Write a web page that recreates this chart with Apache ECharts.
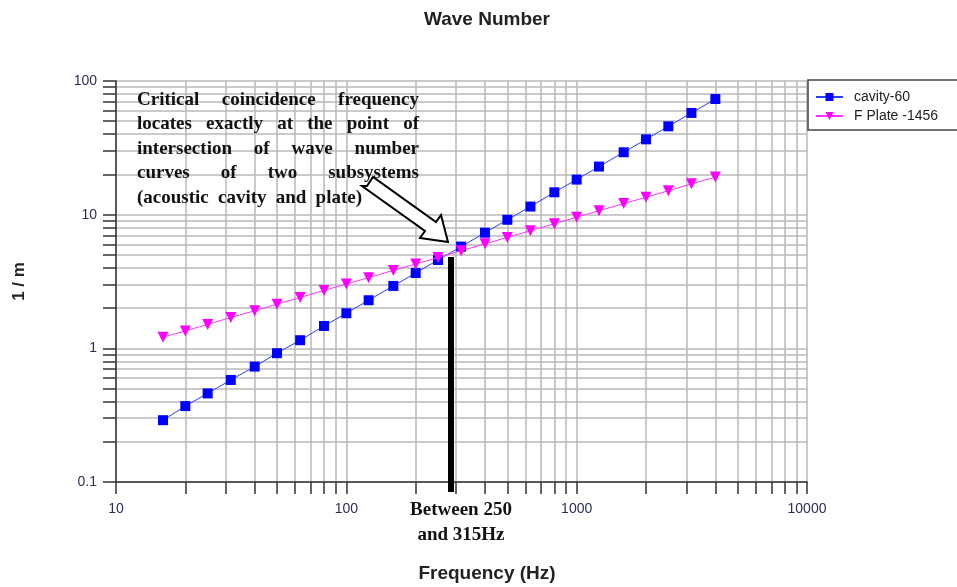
<!DOCTYPE html>
<html>
<head>
<meta charset="utf-8">
<script src="https://cdn.jsdelivr.net/npm/echarts@6/dist/echarts.min.js"></script>
<style>
  html, body { margin: 0; padding: 0; background: #fff; }
  #main { width: 957px; height: 587px; }
</style>
</head>
<body>
<div id="main"></div>
<script>
// third-octave frequencies (Hz)
var freqs = [16, 20, 25, 31.5, 40, 50, 63, 80, 100, 125, 160, 200, 250, 315, 400, 500, 630, 800, 1000, 1250, 1600, 2000, 2500, 3150, 4000];
// wave numbers (1/m)
var cavity = [0.29, 0.37, 0.46, 0.58, 0.73, 0.92, 1.15, 1.47, 1.83, 2.29, 2.93, 3.66, 4.58, 5.77, 7.33, 9.16, 11.5, 14.7, 18.3, 22.9, 29.3, 36.6, 45.8, 57.7, 73.3];
var plate = [1.21, 1.35, 1.51, 1.70, 1.91, 2.14, 2.40, 2.71, 3.03, 3.38, 3.83, 4.28, 4.78, 5.37, 6.05, 6.76, 7.59, 8.56, 9.57, 10.7, 12.1, 13.5, 15.1, 17.0, 19.1];
var seriesNames = ['cavity-60', 'F Plate -1456'];

var noteLines = [
    'Critical coincidence frequency',
    'locates exactly at the point of',
    'intersection of wave number',
    'curves of two subsystems',
    '(acoustic cavity and plate)'
];
// right edge of each justified line
var noteRights = [419, 419, 419, 419, 362];

function pairs(xs, ys) {
    return xs.map(function (x, i) { return [x, ys[i]]; });
}

var gridColor = '#b9b9b9';
var labelColor = '#2c2c5a';
var noteFont = 'bold 19px "Liberation Serif"';

// justified note text: one graphic text per word
var ctx = document.createElement('canvas').getContext('2d');
ctx.font = noteFont;
var noteLeft = 137, noteTop = 100, noteStep = 24.5;
var noteGraphics = [];
noteLines.forEach(function (line, li) {
    var words = line.split(' ');
    var y = noteTop + li * noteStep;
    var total = 0;
    words.forEach(function (w) { total += ctx.measureText(w).width; });
    var gap = (noteRights[li] - noteLeft - total) / (words.length - 1);
    var x = noteLeft;
    words.forEach(function (w) {
        noteGraphics.push({
            type: 'text', z: 10, x: x, y: y,
            style: { text: w, font: noteFont, fill: '#111', verticalAlign: 'middle' }
        });
        x += ctx.measureText(w).width + gap;
    });
});

var chart = echarts.init(document.getElementById('main'));

var option = {
    animation: false,
    backgroundColor: '#fff',
    textStyle: { fontFamily: 'Liberation Sans' },
    legend: {
        orient: 'vertical',
        left: 808,
        top: 80,
        width: 160,
        padding: [10, 60, 7, 7],
        itemGap: 5,
        itemWidth: 27,
        itemHeight: 10,
        borderColor: '#444',
        borderWidth: 1.5,
        backgroundColor: '#fff',
        textStyle: { fontSize: 14, color: '#222', fontFamily: 'Liberation Sans', padding: [0, 0, 0, 6] },
        data: seriesNames
    },
    grid: { left: 116, right: 150, top: 81, bottom: 105 },
    xAxis: {
        type: 'log',
        logBase: 10,
        min: 10,
        max: 10000,
        axisLine: { onZero: false, lineStyle: { color: '#333', width: 1.5 } },
        axisTick: { show: true, length: 12, lineStyle: { color: '#333', width: 1.5 } },
        minorTick: { show: true, splitNumber: 9, length: 12, lineStyle: { color: '#333', width: 1.5 } },
        splitLine: { show: true, lineStyle: { color: gridColor, width: 1.5 } },
        minorSplitLine: { show: true, lineStyle: { color: gridColor, width: 1.5 } },
        axisLabel: {
            margin: 20, fontSize: 14, color: labelColor, fontFamily: 'Liberation Sans',
            formatter: function (v) { return String(v); }
        }
    },
    yAxis: {
        type: 'log',
        logBase: 10,
        min: 0.1,
        max: 100,
        name: '1 / m',
        nameLocation: 'middle',
        nameGap: 88,
        nameRotate: 90,
        nameTextStyle: { fontSize: 17, fontWeight: 'bold', color: '#222', fontFamily: 'Liberation Sans' },
        axisLine: { onZero: false, lineStyle: { color: '#333', width: 1.5 } },
        axisTick: { show: true, length: 13, lineStyle: { color: '#333', width: 1.5 } },
        minorTick: { show: true, splitNumber: 9, length: 13, lineStyle: { color: '#333', width: 1.5 } },
        splitLine: { show: true, lineStyle: { color: gridColor, width: 1.5 } },
        minorSplitLine: { show: true, lineStyle: { color: gridColor, width: 1.5 } },
        axisLabel: {
            margin: 19, fontSize: 14, color: labelColor, fontFamily: 'Liberation Sans',
            formatter: function (v) { return String(v); }
        }
    },
    series: [
        {
            name: seriesNames[0],
            type: 'line',
            data: pairs(freqs, cavity),
            symbol: 'rect',
            symbolSize: 10,
            color: '#0000ff',
            lineStyle: { color: '#2a3cff', width: 1 },
            itemStyle: { color: '#0000ff' },
            z: 3
        },
        {
            name: seriesNames[1],
            type: 'line',
            data: pairs(freqs, plate),
            symbol: 'triangle',
            symbolRotate: 180,
            symbolSize: 11,
            color: '#ff00ff',
            lineStyle: { color: '#ff33ff', width: 1 },
            itemStyle: { color: '#ff00ff' },
            z: 4
        }
    ],
    graphic: [
        {
            type: 'text',
            x: 487,
            y: 20,
            style: {
                text: 'Wave Number',
                font: 'bold 19px "Liberation Sans"',
                fill: '#222',
                textAlign: 'center',
                verticalAlign: 'middle'
            }
        },
        {
            type: 'text',
            x: 487,
            y: 574,
            style: {
                text: 'Frequency (Hz)',
                font: 'bold 19px "Liberation Sans"',
                fill: '#222',
                textAlign: 'center',
                verticalAlign: 'middle'
            }
        },
        // hollow arrow pointing to the intersection
        {
            type: 'polygon',
            z: 10,
            shape: {
                points: [[367, 186], [373, 177], [436, 222], [441, 215], [448, 242], [420, 238], [425, 231], [362, 186]]
            },
            style: { fill: '#fff', stroke: '#000', lineWidth: 2 }
        },
        // thick marker at coincidence frequency
        {
            type: 'rect',
            z: 10,
            shape: { x: 448, y: 257, width: 6, height: 235 },
            style: { fill: '#000' }
        },
        {
            type: 'text',
            z: 10,
            x: 461,
            y: 510,
            style: { text: 'Between 250', font: noteFont, fill: '#111', textAlign: 'center', verticalAlign: 'middle' }
        },
        {
            type: 'text',
            z: 10,
            x: 461,
            y: 535,
            style: { text: 'and 315Hz', font: noteFont, fill: '#111', textAlign: 'center', verticalAlign: 'middle' }
        }
    ].concat(noteGraphics)
};

chart.setOption(option);
</script>
</body>
</html>
